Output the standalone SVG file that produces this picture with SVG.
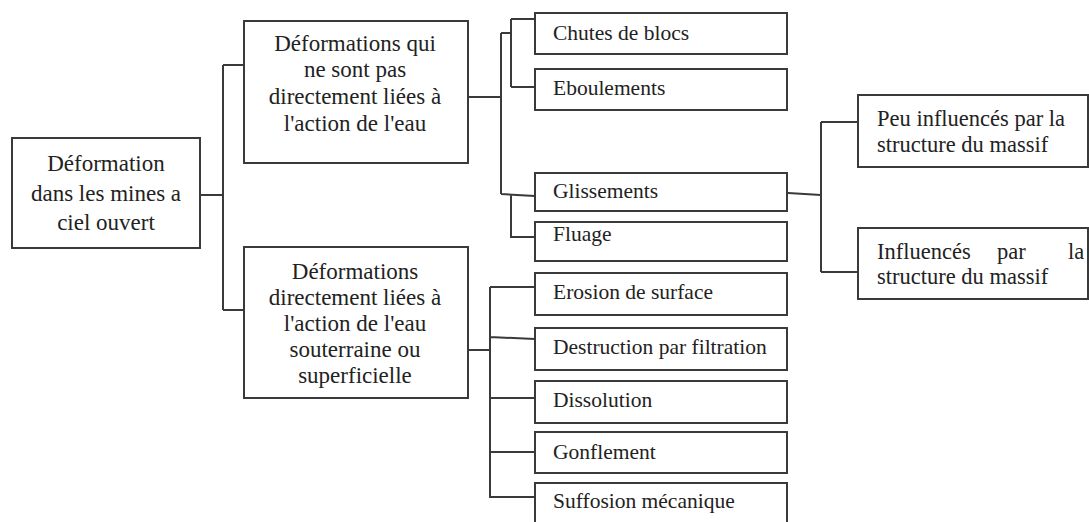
<svg xmlns="http://www.w3.org/2000/svg" width="1089" height="522" viewBox="0 0 1089 522">
<style>
.box{fill:#fff;stroke:#3a3a3a;stroke-width:2}
.c{fill:none;stroke:#3a3a3a;stroke-width:2}
text{font-family:'Liberation Serif','Times New Roman',Tinos,'DejaVu Serif',serif;fill:#222}
.t{font-size:23px;text-anchor:middle}
.r{font-size:21.5px}
.p{font-size:22.5px}
</style>
<rect width="1089" height="522" fill="#fff"/>
<g id="connectors">
<path class="c" d="M200,195H223M223,65V310M223,65H244M223,310H244"/>
<path class="c" d="M468,97H501M501,33V194M501,33H511M511,19V87M511,19H535M511,87H535M501,194L535,196M511,194V237H535"/>
<path class="c" d="M468,350H490M490,287V498M490,287H535M490,337L535,339M490,398H535M490,452H535M490,497H535"/>
<path class="c" d="M788,193L821,195M821,122V272M821,122H858M821,272H858"/>
</g>
<g id="root"><rect class="box" x="12" y="138" width="188" height="110"/>
<text class="t"><tspan x="106" y="171">Déformation</tspan><tspan x="106" y="201">dans les mines a</tspan><tspan x="106" y="230">ciel ouvert</tspan></text></g>
<g id="n-non-eau"><rect class="box" x="244" y="21" width="224" height="142"/>
<text class="t"><tspan x="355" y="50.5">Déformations qui</tspan><tspan x="355" y="77">ne sont pas</tspan><tspan x="355" y="104">directement liées à</tspan><tspan x="355" y="130.5">l'action de l'eau</tspan></text></g>
<g id="n-eau"><rect class="box" x="244" y="247" width="224" height="151"/>
<text class="t"><tspan x="355" y="279">Déformations</tspan><tspan x="355" y="305">directement liées à</tspan><tspan x="355" y="331">l'action de l'eau</tspan><tspan x="355" y="357">souterraine ou</tspan><tspan x="355" y="383">superficielle</tspan></text></g>
<g id="n-chutes"><rect class="box" x="535" y="13" width="252" height="41"/><text class="r" x="553" y="40">Chutes de blocs</text></g>
<g id="n-eboulements"><rect class="box" x="535" y="69" width="252" height="41"/><text class="r" x="553" y="95">Eboulements</text></g>
<g id="n-glissements"><rect class="box" x="535" y="173" width="252" height="38"/><text class="r" x="553" y="198">Glissements</text></g>
<g id="n-fluage"><rect class="box" x="535" y="222" width="252" height="39"/><text class="r" x="553" y="241">Fluage</text></g>
<g id="n-erosion"><rect class="box" x="535" y="273" width="252" height="42"/><text class="r" x="553" y="299">Erosion de surface</text></g>
<g id="n-destruction"><rect class="box" x="535" y="328" width="252" height="42"/><text class="r" x="553" y="354">Destruction par filtration</text></g>
<g id="n-dissolution"><rect class="box" x="535" y="381" width="252" height="42"/><text class="r" x="553" y="407">Dissolution</text></g>
<g id="n-gonflement"><rect class="box" x="535" y="432" width="252" height="41"/><text class="r" x="553" y="459">Gonflement</text></g>
<g id="n-suffosion"><rect class="box" x="535" y="483" width="252" height="50"/><text class="r" x="553" y="508">Suffosion mécanique</text></g>
<g id="n-peu"><rect class="box" x="858" y="95" width="230" height="72"/>
<text class="p"><tspan x="877" y="126">Peu influencés par la</tspan><tspan x="877" y="152">structure du massif</tspan></text></g>
<g id="n-influences"><rect class="box" x="858" y="228" width="230" height="71"/>
<text class="p"><tspan x="877" y="259">Influencés</tspan><tspan x="997" y="259">par</tspan><tspan x="1068" y="259">la</tspan><tspan x="877" y="284">structure du massif</tspan></text></g>
</svg>
